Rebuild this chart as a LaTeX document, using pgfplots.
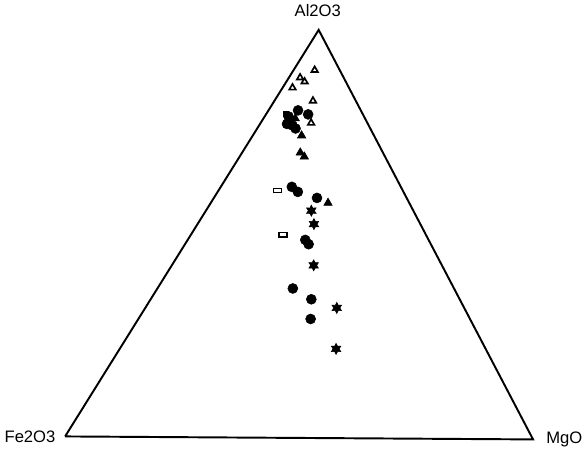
\documentclass[border=0pt]{standalone}
\usepackage{pgfplots}
\pgfplotsset{compat=1.18}
\usepackage{fontspec}
\setmainfont{Liberation Sans}
\usetikzlibrary{plotmarks}
\pgfdeclareplotmark{sixstar}{%
  \pgfpathmoveto{\pgfqpointpolar{90}{\pgfplotmarksize}}%
  \pgfpathlineto{\pgfqpointpolar{120}{0.55\pgfplotmarksize}}%
  \pgfpathlineto{\pgfqpointpolar{150}{\pgfplotmarksize}}%
  \pgfpathlineto{\pgfqpointpolar{180}{0.55\pgfplotmarksize}}%
  \pgfpathlineto{\pgfqpointpolar{210}{\pgfplotmarksize}}%
  \pgfpathlineto{\pgfqpointpolar{240}{0.55\pgfplotmarksize}}%
  \pgfpathlineto{\pgfqpointpolar{270}{\pgfplotmarksize}}%
  \pgfpathlineto{\pgfqpointpolar{300}{0.55\pgfplotmarksize}}%
  \pgfpathlineto{\pgfqpointpolar{330}{\pgfplotmarksize}}%
  \pgfpathlineto{\pgfqpointpolar{0}{0.55\pgfplotmarksize}}%
  \pgfpathlineto{\pgfqpointpolar{30}{\pgfplotmarksize}}%
  \pgfpathlineto{\pgfqpointpolar{60}{0.55\pgfplotmarksize}}%
  \pgfpathclose\pgfusepathqfillstroke}
\begin{document}
\begin{tikzpicture}
\begin{axis}[
  width=15cm, height=11.525cm, scale only axis,
  xmin=-14.62, xmax=111.61, ymin=-2.69, ymax=94.30,
  axis lines=none, clip=false,
  font=\fontsize{12}{14}\selectfont,
]
% triangle frame
\addplot[black, line width=1.4pt, line join=miter] coordinates {(0,0.32) (100,-0.32) (54.19,87.2) (0,0.32)};
% open triangles
\addplot[only marks, mark=triangle, mark size=2.7pt, mark options={black, line width=1.2pt, fill=white}] coordinates {
(53.33,78.60) (50.22,76.99) (51.18,76.13) (48.60,74.84) (52.97,72.04) (52.58,67.31)};
% filled circles
\addplot[only marks, mark=*, mark size=3.6pt, mark options={black, fill=black}] coordinates {
(49.78,70.00) (51.94,69.14) (47.74,68.71) (47.42,67.10) (48.60,66.77) (49.25,66.13)
(48.45,53.66) (49.74,52.58) (53.83,51.29) (51.33,42.32) (52.04,41.40)
(48.67,31.94) (52.62,29.63) (52.47,25.42)};
% small filled square
\addplot[only marks, mark=square*, mark size=1.8pt, mark options={black, fill=black}] coordinates {(47.16,69.35)};
% filled triangles
\addplot[only marks, mark=triangle*, mark size=3.5pt, mark options={black, fill=black}] coordinates {
(49.18,68.28) (50.54,64.62) (50.26,60.97) (51.12,60.11) (56.19,50.22)};
% stars
\addplot[only marks, mark=sixstar, mark size=4pt, mark options={black, fill=black}] coordinates {
(52.62,48.56) (53.18,45.70) (53.12,36.88) (58.06,27.78) (57.91,19.03)};
% open rectangles
\addplot[only marks, mark=square, mark size=1.6pt, mark options={black, line width=1pt, xscale=1.8}] coordinates {
(45.44,52.86) (46.60,43.40)};
\node[anchor=center] at (axis cs:54.0,91.3) {Al2O3};
\node[anchor=center] at (axis cs:-7.5,0.3) {Fe2O3};
\node[anchor=center] at (axis cs:106.7,-0.3) {MgO};
\end{axis}
\end{tikzpicture}
\end{document}
